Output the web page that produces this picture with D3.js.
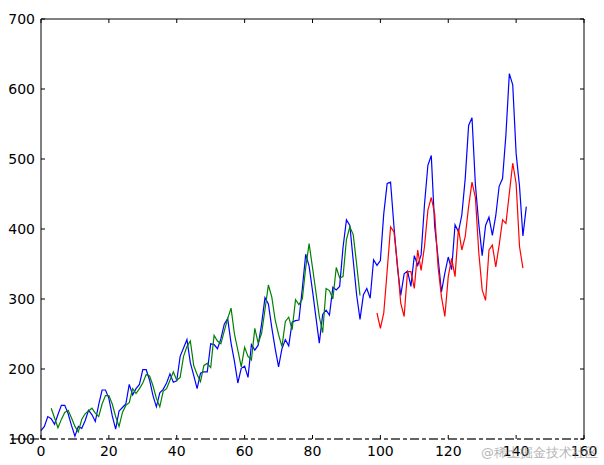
<!DOCTYPE html>
<html>
<head>
<meta charset="utf-8">
<script src="https://cdn.jsdelivr.net/npm/d3@7"></script>
<style>
  body { margin: 0; background: #fff; }
  text { font-family: "DejaVu Sans", sans-serif; }
</style>
</head>
<body>
<svg width="604" height="465"></svg>
<script>
'use strict';

// monthly passengers (blue)
const passengers = [
  112,118,132,129,121,135,148,148,136,119,104,118,
  115,126,141,135,125,149,170,170,158,133,114,140,
  145,150,178,163,172,178,199,199,184,162,146,166,
  171,180,193,181,183,218,230,242,209,191,172,194,
  196,196,236,235,229,243,264,272,237,211,180,201,
  204,188,235,227,234,264,302,293,259,229,203,229,
  242,233,267,269,270,315,364,347,312,274,237,278,
  284,277,317,313,318,374,413,405,355,306,271,306,
  315,301,356,348,355,422,465,467,404,347,305,336,
  340,318,362,348,363,435,491,505,404,359,310,337,
  360,342,406,396,420,472,548,559,463,407,362,405,
  417,391,419,461,472,535,622,606,508,461,390,432
];

// train predictions (green), first one at index 3
const trainStart = 3;
const trainPredict = [
  144,130,116,128,138,141,130,118,110,128,
  136,140,144,137,132,150,162,162,150,132,
  118,138,148,152,172,165,172,180,192,190,
  176,158,146,168,172,184,196,184,188,218,
  232,240,205,192,182,205,208,202,248,240,
  236,254,272,287,250,227,203,231,218,213,
  258,237,251,285,320,303,270,249,232,268,
  274,256,299,292,300,345,379,345,310,275,
  252,315,312,300,345,330,332,385,403,392,
  350,305
];

// test predictions (red), first one at index 99
const testStart = 99;
const testPredict = [
  280,258,280,340,403,396,351,294,275,339,
  339,315,370,341,375,427,445,422,346,303,
  275,332,358,332,401,370,389,432,467,445,
  366,313,298,370,377,346,377,413,408,451,
  494,465,375,344
];

const xTicks = [0, 20, 40, 60, 80, 100, 120, 140, 160];
const yTicks = [100, 200, 300, 400, 500, 600, 700];

const plotL = 41, plotR = 584, plotT = 19, plotB = 439;

const x = d3.scaleLinear().domain([0, 160]).range([plotL, plotR]);
const y = d3.scaleLinear().domain([100, 700]).range([plotB, plotT]);

const svg = d3.select("svg");

const line = d3.line()
  .x(d => x(d[0]))
  .y(d => y(d[1]));

function series(values, start) {
  return values.map((v, i) => [start + i, v]);
}

svg.append("path")
  .attr("d", line(series(passengers, 0)))
  .attr("fill", "none").attr("stroke", "#0000ff").attr("stroke-width", 1.2);

svg.append("path")
  .attr("d", line(series(trainPredict, trainStart)))
  .attr("fill", "none").attr("stroke", "#008000").attr("stroke-width", 1.2);

svg.append("path")
  .attr("d", line(series(testPredict, testStart)))
  .attr("fill", "none").attr("stroke", "#ff0000").attr("stroke-width", 1.2);

// frame
svg.append("line").attr("x1", plotL).attr("x2", plotL).attr("y1", plotT).attr("y2", plotB)
  .attr("stroke", "#000");
svg.append("line").attr("x1", plotR).attr("x2", plotR).attr("y1", plotT).attr("y2", plotB)
  .attr("stroke", "#000");
svg.append("line").attr("x1", plotL).attr("x2", plotR).attr("y1", plotT).attr("y2", plotT)
  .attr("stroke", "#000");
// bottom edge comes out broken up in the picture
svg.append("line").attr("x1", plotL - 30).attr("x2", plotR).attr("y1", plotB).attr("y2", plotB)
  .attr("stroke", "#333").attr("stroke-width", 1.5).attr("stroke-dasharray", "9,3,4,3");

// inward ticks on all sides
const tickLen = 4;
xTicks.forEach(t => {
  svg.append("line").attr("x1", x(t)).attr("x2", x(t)).attr("y1", plotB).attr("y2", plotB - tickLen)
    .attr("stroke", "#000");
  svg.append("line").attr("x1", x(t)).attr("x2", x(t)).attr("y1", plotT).attr("y2", plotT + tickLen)
    .attr("stroke", "#000");
  svg.append("text").attr("x", x(t)).attr("y", 456)
    .attr("text-anchor", "middle").attr("font-size", 14).text(t);
});
yTicks.forEach(t => {
  svg.append("line").attr("x1", plotL).attr("x2", plotL + tickLen).attr("y1", y(t)).attr("y2", y(t))
    .attr("stroke", "#000");
  svg.append("line").attr("x1", plotR).attr("x2", plotR - tickLen).attr("y1", y(t)).attr("y2", y(t))
    .attr("stroke", "#000");
  svg.append("text").attr("x", 35).attr("y", y(t) + 5)
    .attr("text-anchor", "end").attr("font-size", 14).text(t);
});

// watermark
svg.append("text").attr("x", 598).attr("y", 457)
  .attr("text-anchor", "end").attr("font-size", 13)
  .attr("font-family", "Noto Sans CJK SC")
  .attr("fill", "#999").attr("opacity", 0.7)
  .text("@稀土掘金技术社区");
</script>
</body>
</html>
